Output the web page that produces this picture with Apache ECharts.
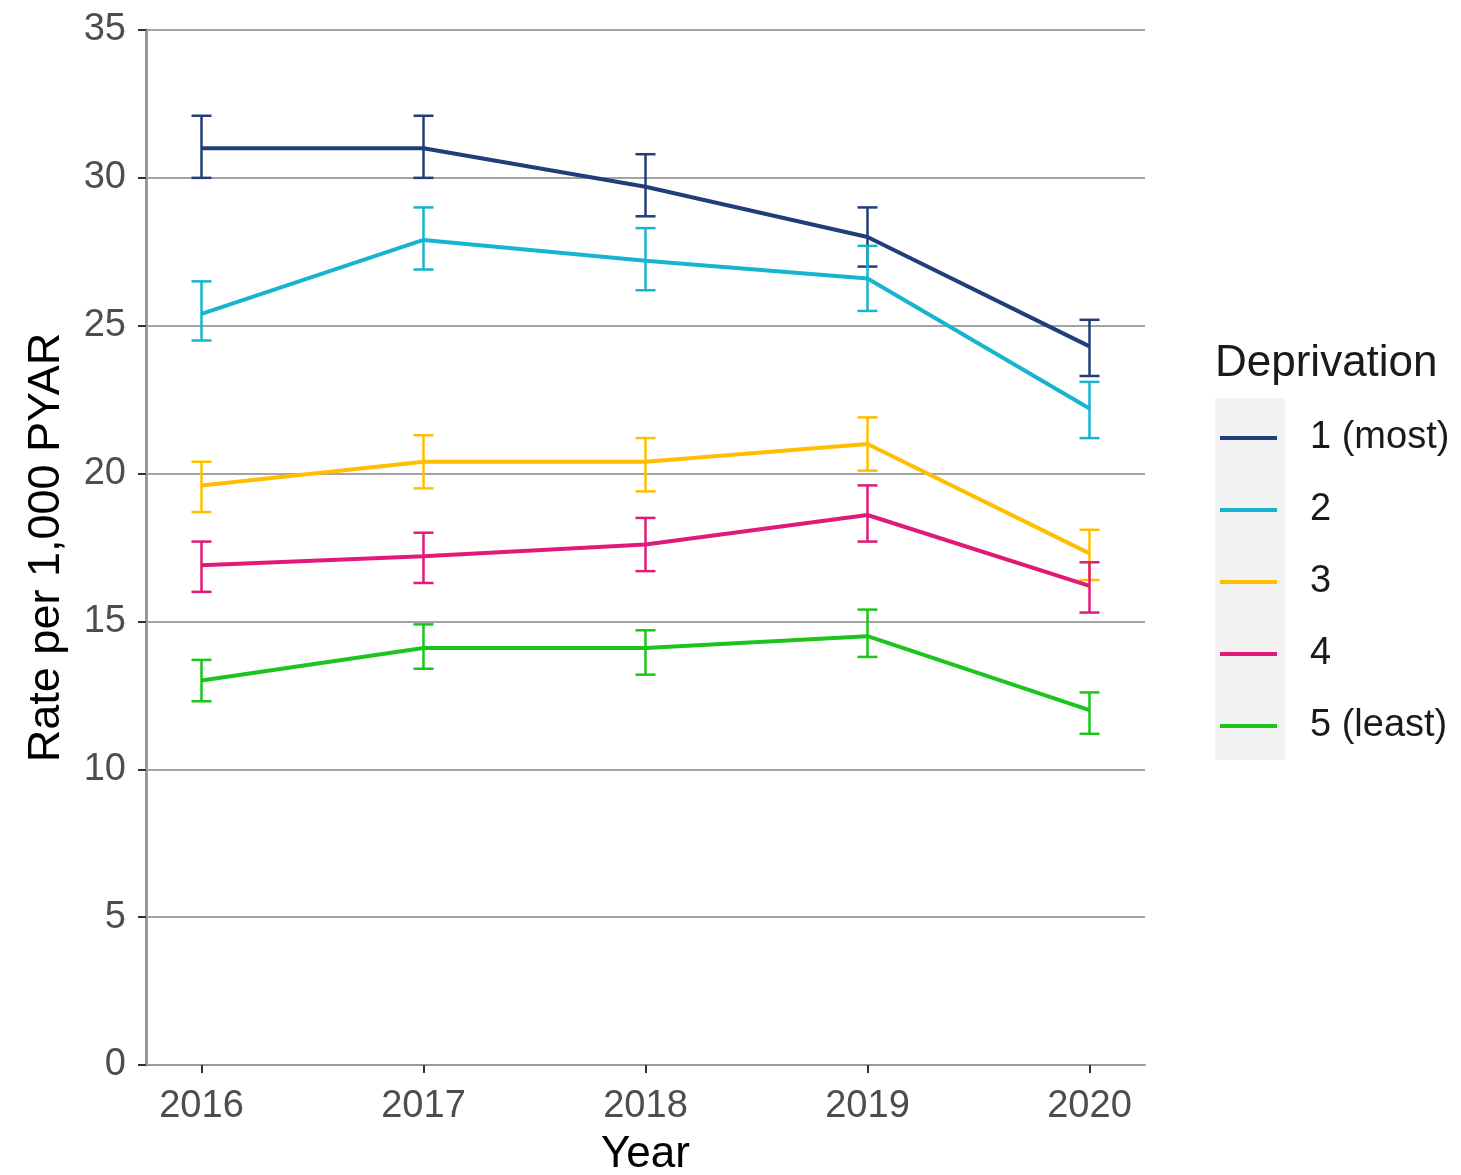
<!DOCTYPE html>
<html>
<head>
<meta charset="utf-8">
<script src="https://cdn.jsdelivr.net/npm/echarts@6/dist/echarts.min.js"></script>
<style>
  html, body { margin: 0; padding: 0; background: #fff; }
  #chart { width: 1461px; height: 1175px; }
</style>
</head>
<body>
<div id="chart"></div>
<script>
const years = [2016, 2017, 2018, 2019, 2020];
const groupNames = ['1 (most)', '2', '3', '4', '5 (least)'];
const groupColors = ['#213e7a', '#17b4cf', '#ffbf00', '#e0197a', '#1cc41c'];

// rate per 1,000 PYAR with lower / upper confidence limits
const rate1 = [31.0, 31.0, 29.7, 28.0, 24.3];
const lower1 = [30.0, 30.0, 28.7, 27.0, 23.3];
const upper1 = [32.1, 32.1, 30.8, 29.0, 25.2];

const rate2 = [25.4, 27.9, 27.2, 26.6, 22.2];
const lower2 = [24.5, 26.9, 26.2, 25.5, 21.2];
const upper2 = [26.5, 29.0, 28.3, 27.7, 23.1];

const rate3 = [19.6, 20.4, 20.4, 21.0, 17.3];
const lower3 = [18.7, 19.5, 19.4, 20.1, 16.4];
const upper3 = [20.4, 21.3, 21.2, 21.9, 18.1];

const rate4 = [16.9, 17.2, 17.6, 18.6, 16.2];
const lower4 = [16.0, 16.3, 16.7, 17.7, 15.3];
const upper4 = [17.7, 18.0, 18.5, 19.6, 17.0];

const rate5 = [13.0, 14.1, 14.1, 14.5, 12.0];
const lower5 = [12.3, 13.4, 13.2, 13.8, 11.2];
const upper5 = [13.7, 14.9, 14.7, 15.4, 12.6];

const yTicks = [0, 5, 10, 15, 20, 25, 30, 35];

const rates = [rate1, rate2, rate3, rate4, rate5];
const lowers = [lower1, lower2, lower3, lower4, lower5];
const uppers = [upper1, upper2, upper3, upper4, upper5];

const FONT = 'Liberation Sans, Arial, sans-serif';

let chart = echarts.init(document.getElementById('chart'), null, { renderer: 'canvas' });

let series = [];
// error bars first, lines over them
for(let i = 0; i < groupNames.length; i++) {
  series.push({
    name: groupNames[i] + ' CI',
    type: 'custom',
    silent: true,
    data: years.map((y, j) => [y, lowers[i][j], uppers[i][j]]),
    encode: { x: 0, y: [1, 2] },
    renderItem: function(params, api) {
      let x = api.value(0);
      let pLo = api.coord([x, api.value(1)]);
      let pHi = api.coord([x, api.value(2)]);
      let half = 10;
      let style = { stroke: groupColors[i], lineWidth: 2.5, fill: null };
      return {
        type: 'group',
        children: [
          { type: 'line', shape: { x1: pLo[0], y1: pLo[1], x2: pHi[0], y2: pHi[1] }, style: style },
          { type: 'line', shape: { x1: pHi[0] - half, y1: pHi[1], x2: pHi[0] + half, y2: pHi[1] }, style: style },
          { type: 'line', shape: { x1: pLo[0] - half, y1: pLo[1], x2: pLo[0] + half, y2: pLo[1] }, style: style },
        ],
      };
    },
    z: 2,
  });
}
for(let i = 0; i < groupNames.length; i++) {
  series.push({
    name: groupNames[i],
    type: 'line',
    data: years.map((y, j) => [y, rates[i][j]]),
    symbol: 'none',
    lineStyle: { color: groupColors[i], width: 4 },
    itemStyle: { color: groupColors[i] },
    z: 3,
  });
}

chart.setOption({
  animation: false,
  backgroundColor: '#ffffff',
  textStyle: { fontFamily: FONT },
  title: {
    text: 'Deprivation',
    left: 1210,
    top: 337,
    textStyle: { fontFamily: FONT, fontSize: 44, fontWeight: 'normal', color: '#1a1a1a' },
  },
  graphic: [
    {
      type: 'rect',
      z: -1,
      shape: { x: 1215, y: 398, width: 70, height: 362 },
      style: { fill: '#f2f2f2' },
    },
  ],
  legend: {
    orient: 'vertical',
    left: 1220,
    top: 416,
    padding: 0,
    data: groupNames,
    icon: 'rect',
    itemWidth: 57,
    itemHeight: 4,
    itemGap: 28,
    selectedMode: false,
    textStyle: {
      fontFamily: FONT,
      fontSize: 38,
      lineHeight: 44,
      color: '#1a1a1a',
      padding: [0, 0, 0, 28],
    },
  },
  grid: {
    left: 146,
    right: 316,
    top: 30,
    bottom: 110,
    containLabel: false,
    outerBoundsMode: 'none',
  },
  xAxis: {
    type: 'value',
    min: 2015.75,
    max: 2020.25,
    name: 'Year',
    nameLocation: 'middle',
    nameGap: 68,
    nameTextStyle: { fontFamily: FONT, fontSize: 44, color: '#000' },
    axisLine: { show: true, lineStyle: { color: '#999', width: 2 } },
    axisTick: { show: true, customValues: years, length: 8, lineStyle: { color: '#333', width: 2 } },
    axisLabel: {
      customValues: years,
      margin: 23,
      fontFamily: FONT,
      fontSize: 38,
      color: '#4d4d4d',
      formatter: (v) => String(v),
    },
    splitLine: { show: false },
  },
  yAxis: {
    type: 'value',
    min: 0,
    max: 35,
    interval: 5,
    name: 'Rate per 1,000 PYAR',
    nameLocation: 'middle',
    nameGap: 77,
    nameTextStyle: { fontFamily: FONT, fontSize: 45, color: '#000' },
    axisLine: { show: true, lineStyle: { color: '#999', width: 3 } },
    axisTick: { show: true, length: 8, lineStyle: { color: '#333', width: 2 } },
    axisLabel: {
      margin: 20,
      fontFamily: FONT,
      fontSize: 38,
      color: '#4d4d4d',
      formatter: (v) => yTicks.includes(v) ? String(v) : '',
    },
    splitLine: { show: true, lineStyle: { color: '#a3a3a3', width: 2 } },
  },
  series: series,
});
</script>
</body>
</html>
